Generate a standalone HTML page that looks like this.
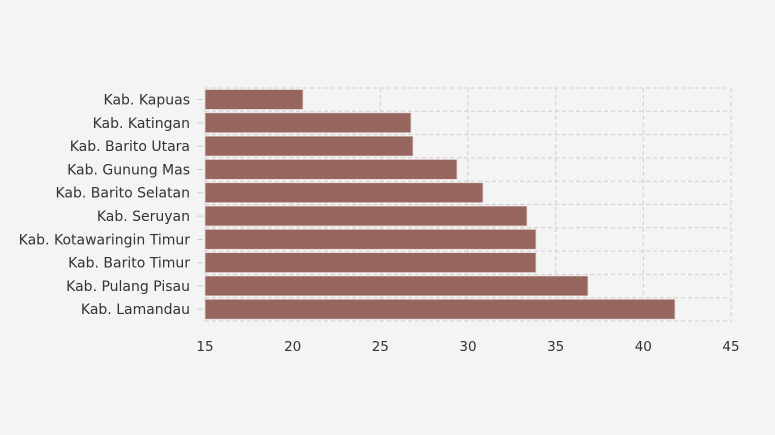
<!DOCTYPE html>
<html><head><meta charset="utf-8"><style>
html,body{margin:0;padding:0;background:#f4f4f4;}
svg{display:block;font-family:"DejaVu Sans",sans-serif;}
</style></head><body>
<svg width="775" height="435" viewBox="0 0 775 435">
<rect width="775" height="435" fill="#f4f4f4"/>
<g stroke="#cfcfcf" stroke-dasharray="4,3" stroke-width="1" fill="none">
<line x1="205" y1="88" x2="205" y2="321"/>
<line x1="292.7" y1="88" x2="292.7" y2="321"/>
<line x1="380.3" y1="88" x2="380.3" y2="321"/>
<line x1="468" y1="88" x2="468" y2="321"/>
<line x1="555.7" y1="88" x2="555.7" y2="321"/>
<line x1="643.3" y1="88" x2="643.3" y2="321"/>
<line x1="731" y1="88" x2="731" y2="321"/>
<line x1="205" y1="88" x2="731" y2="88"/>
<line x1="205" y1="111.3" x2="731" y2="111.3"/>
<line x1="205" y1="134.6" x2="731" y2="134.6"/>
<line x1="205" y1="157.9" x2="731" y2="157.9"/>
<line x1="205" y1="181.2" x2="731" y2="181.2"/>
<line x1="205" y1="204.5" x2="731" y2="204.5"/>
<line x1="205" y1="227.8" x2="731" y2="227.8"/>
<line x1="205" y1="251.1" x2="731" y2="251.1"/>
<line x1="205" y1="274.4" x2="731" y2="274.4"/>
<line x1="205" y1="297.7" x2="731" y2="297.7"/>
<line x1="205" y1="321" x2="731" y2="321"/>
</g>
<g fill="#96655e" stroke="#e8dcda" stroke-width="0.8">
<rect x="205" y="89.5" width="98" height="20"/>
<rect x="205" y="112.8" width="206" height="20"/>
<rect x="205" y="136.1" width="208" height="20"/>
<rect x="205" y="159.4" width="252" height="20"/>
<rect x="205" y="182.7" width="278" height="20"/>
<rect x="205" y="206" width="322" height="20"/>
<rect x="205" y="229.3" width="331" height="20"/>
<rect x="205" y="252.6" width="331" height="20"/>
<rect x="205" y="275.9" width="383" height="20"/>
<rect x="205" y="299.2" width="470" height="20"/>
</g>
<g stroke="#cccccc">
<line x1="197" y1="99.6" x2="203" y2="99.6"/><line x1="197" y1="122.9" x2="203" y2="122.9"/>
<line x1="197" y1="146.2" x2="203" y2="146.2"/><line x1="197" y1="169.5" x2="203" y2="169.5"/>
<line x1="197" y1="192.8" x2="203" y2="192.8"/><line x1="197" y1="216.1" x2="203" y2="216.1"/>
<line x1="197" y1="239.4" x2="203" y2="239.4"/><line x1="197" y1="262.7" x2="203" y2="262.7"/>
<line x1="197" y1="286" x2="203" y2="286"/><line x1="197" y1="309.3" x2="203" y2="309.3"/>
</g>
<g font-size="14" fill="#333" text-anchor="end">
<text x="190" y="104.5">Kab. Kapuas</text>
<text x="190" y="127.8">Kab. Katingan</text>
<text x="190" y="151.1">Kab. Barito Utara</text>
<text x="190" y="174.4">Kab. Gunung Mas</text>
<text x="190" y="197.7">Kab. Barito Selatan</text>
<text x="190" y="221">Kab. Seruyan</text>
<text x="190" y="244.3">Kab. Kotawaringin Timur</text>
<text x="190" y="267.6">Kab. Barito Timur</text>
<text x="190" y="290.9">Kab. Pulang Pisau</text>
<text x="190" y="314.2">Kab. Lamandau</text>
</g>
<g font-size="13.5" fill="#333" text-anchor="middle">
<text x="205" y="351">15</text><text x="292.7" y="351">20</text><text x="380.3" y="351">25</text>
<text x="468" y="351">30</text><text x="555.7" y="351">35</text><text x="643.3" y="351">40</text><text x="731" y="351">45</text>
</g>
</svg>
</body></html>
